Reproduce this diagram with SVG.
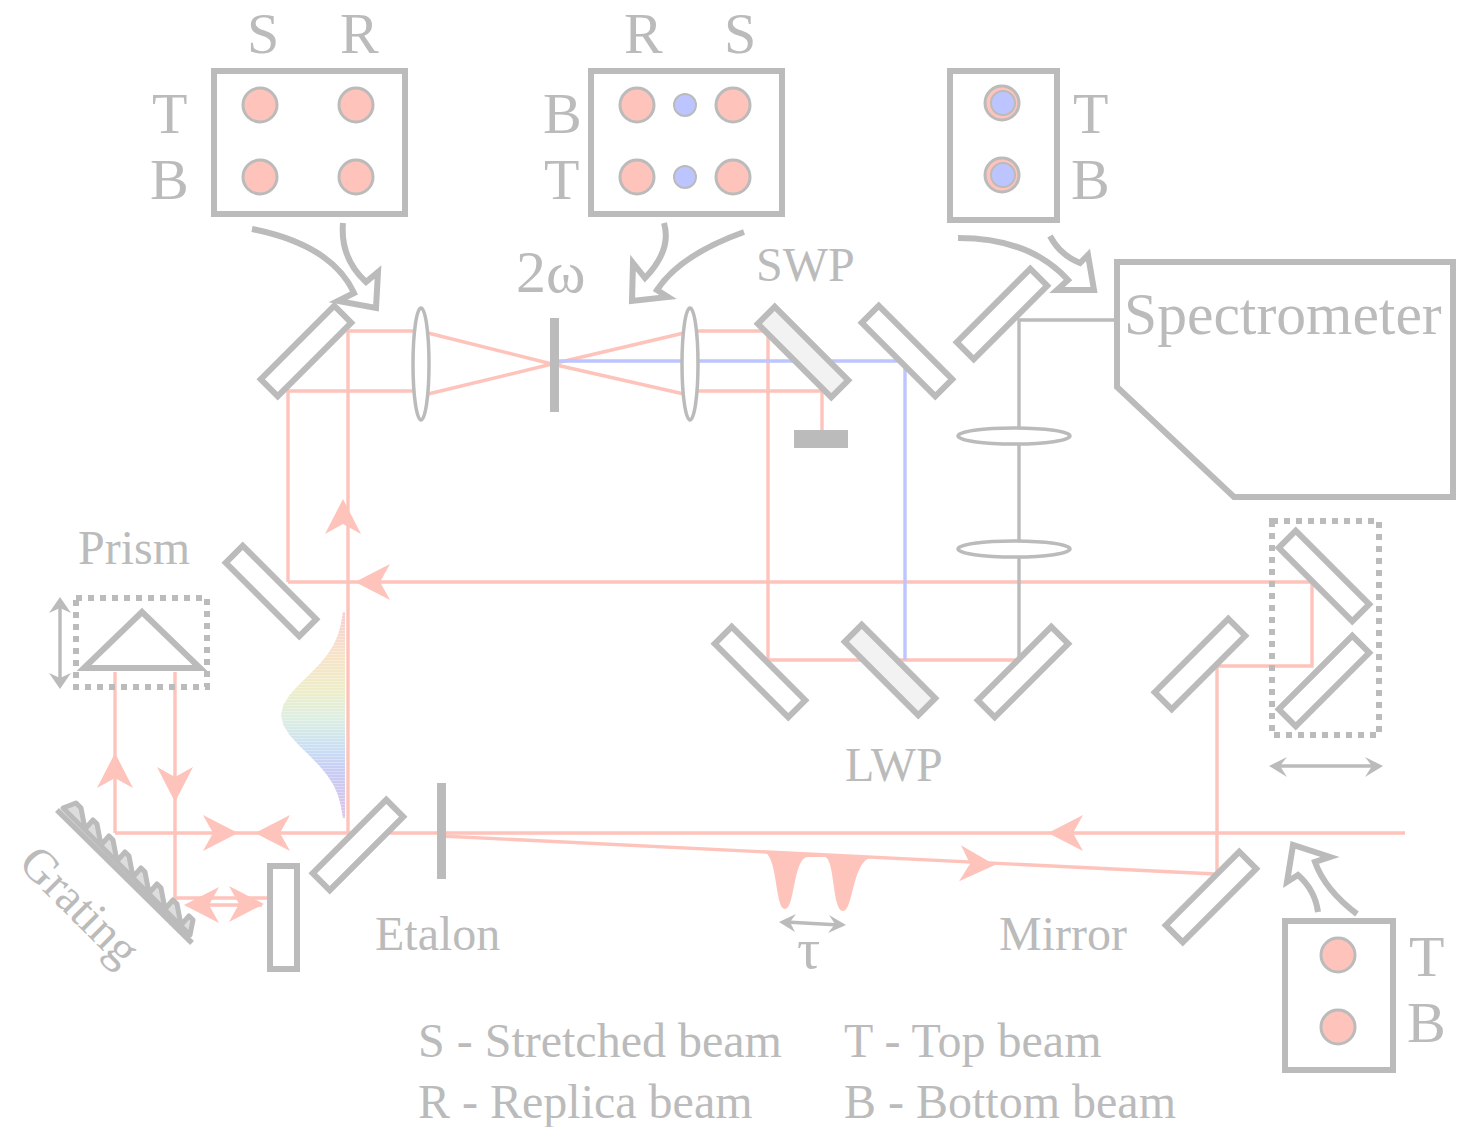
<svg xmlns="http://www.w3.org/2000/svg" width="1471" height="1127" viewBox="0 0 1471 1127">
<style>
text{font-family:"Liberation Serif","Times New Roman",serif;fill:#bbb;font-size:48px}
.big{font-size:59.600px}
.let{font-size:58px}
.c line,.c polyline{fill:none;stroke:#fec3ba;stroke-width:3.400}
.c .b{stroke:#bcc5ff}
.c .g{stroke:#bbb}
.m{fill:#fff;stroke:#bbb;stroke-width:6}
.f{fill:#f2f2f2}
.box{fill:#fff;stroke:#bbb;stroke-width:6}
.dash{fill:none;stroke:#bbb;stroke-width:6;stroke-dasharray:6 6}
.spot{fill:#fec3ba;stroke:#bbb;stroke-width:3}
.blue{fill:#bcc5ff;stroke:#bbb;stroke-width:2}
.lens{fill:#fff;stroke:#bbb;stroke-width:3.500}
.bar{fill:#bbb}
.thick{fill:none;stroke:#bbb;stroke-width:6;stroke-linejoin:miter}
.dbl{fill:none;stroke:#bbb;stroke-width:3.400}
.gh{fill:#bbb}
.ph{fill:#fec3ba}
</style>
<defs>
<path id="ah" d="M0,0L-35,-18L-25,0L-35,18Z"/>
<rect id="mir" x="-52" y="-12" width="104" height="24"/>
<linearGradient id="rb" x1="0" y1="0" x2="0" y2="1">
<stop offset="0" stop-color="#f6ced4"/><stop offset=".2" stop-color="#f7e2c8"/><stop offset=".38" stop-color="#eeedc8"/><stop offset=".52" stop-color="#dceee2"/><stop offset=".66" stop-color="#c9dff3"/><stop offset=".78" stop-color="#c8cbf3"/><stop offset="1" stop-color="#dcc5e6"/>
</linearGradient>
<pattern id="stripes" width="4" height="3" patternUnits="userSpaceOnUse"><rect y="0" width="4" height="1" fill="#fff" fill-opacity=".3"/></pattern>
</defs>
<g id="connectors" class="c">
<line x1="1405" y1="833" x2="115" y2="833"/>
<polyline points="441,836 1215,874"/>
<polyline points="115,833 115,672"/>
<polyline points="175,672 175,898 268,898"/>
<line x1="190" y1="905" x2="262" y2="905"/>
<line x1="348" y1="833" x2="348" y2="331"/>
<line x1="348" y1="331" x2="415" y2="331"/>
<polyline points="415,391 288,391 288,582"/>
<polyline points="288,582 1312,582 1312,666 1217,666 1217,873"/>
<polyline points="428,333 552,364 428,394"/>
<polyline points="684,333 552,364 684,394"/>
<line x1="696" y1="331" x2="765" y2="331"/>
<polyline points="696,391 822,391 822,430"/>
<polyline points="768,331 768,660 1018,660"/>
<polyline class="b" points="552,361 905,361 905,660"/>
<polyline class="g" points="1116,320 1019,320 1019,660"/>
</g>
<g id="arrowheads" class="ph">
<use href="#ah" transform="translate(343,499) rotate(-90)"/>
<use href="#ah" transform="translate(355,582) rotate(180)"/>
<use href="#ah" transform="translate(115,753) rotate(-90)"/>
<use href="#ah" transform="translate(175,802) rotate(90)"/>
<use href="#ah" transform="translate(238,833)"/>
<use href="#ah" transform="translate(255,833) rotate(180)"/>
<use href="#ah" transform="translate(184,905) rotate(180)"/>
<use href="#ah" transform="translate(264,904)"/>
<use href="#ah" transform="translate(995,865) rotate(3)"/>
<use href="#ah" transform="translate(1048,833) rotate(180)"/>
</g>
<g id="pulses"><path class="ph" d="M765,852C778,860 775,909 785,909C795,909 793,857 808,857L825,857C835,859 832,911 843,911C853,911 852,866 869,858Z"/></g>
<g id="spectrum">
<polygon fill="url(#rb)" points="345,612 343,612 342.400,615 340.700,625 337.900,635 333.500,645 327,655 318.700,665 308.900,675 298.600,685 289.600,695 283.300,705 281,715 283.300,725 289.600,735 298.600,745 308.900,755 318.700,765 327,775 333.500,785 337.900,795 340.700,805 342.400,815 343,818 345,818"/>
<polygon fill="url(#stripes)" points="345,612 343,612 342.400,615 340.700,625 337.900,635 333.500,645 327,655 318.700,665 308.900,675 298.600,685 289.600,695 283.300,705 281,715 283.300,725 289.600,735 298.600,745 308.900,755 318.700,765 327,775 333.500,785 337.900,795 340.700,805 342.400,815 343,818 345,818"/>
</g>
<g id="mirror-a"><use href="#mir" class="m" transform="translate(306,351) rotate(-45)"/></g>
<g id="swp"><use href="#mir" class="m f" transform="translate(803,352) rotate(45)"/></g>
<g id="mirror-c"><use href="#mir" class="m" transform="translate(907,351) rotate(45)"/></g>
<g id="mirror-d"><use href="#mir" class="m" transform="translate(1002,314) rotate(-45)"/></g>
<g id="mirror-e"><use href="#mir" class="m" transform="translate(271,591) rotate(45)"/></g>
<g id="mirror-f"><use href="#mir" class="m" transform="translate(358,845) rotate(-45)"/></g>
<g id="mirror-g"><use href="#mir" class="m" transform="translate(760,672) rotate(45)"/></g>
<g id="lwp"><use href="#mir" class="m f" transform="translate(890,670) rotate(45)"/></g>
<g id="mirror-i"><use href="#mir" class="m" transform="translate(1023,672) rotate(-45)"/></g>
<g id="mirror-j"><use href="#mir" class="m" transform="translate(1200,664) rotate(-45)"/></g>
<g id="mirror-k"><use href="#mir" class="m" transform="translate(1324,576) rotate(45)"/></g>
<g id="mirror-l"><use href="#mir" class="m" transform="translate(1324,681) rotate(-45)"/></g>
<g id="mirror-m"><use href="#mir" class="m" transform="translate(1211,897) rotate(-45)"/></g>
<g id="stage-mirror"><rect class="box" x="270" y="866" width="27" height="103"/></g>
<g id="lens1"><ellipse class="lens" cx="421" cy="364" rx="8" ry="56"/></g>
<g id="lens2"><ellipse class="lens" cx="690" cy="364" rx="8" ry="56"/></g>
<g id="lens3"><ellipse class="lens" cx="1014" cy="436" rx="56" ry="8"/></g>
<g id="lens4"><ellipse class="lens" cx="1014" cy="549" rx="56" ry="8"/></g>
<g id="filter-2w"><rect class="bar" x="550" y="318" width="9" height="94"/></g>
<g id="etalon"><rect class="bar" x="437" y="783" width="9" height="96"/></g>
<g id="dump"><rect class="bar" x="794" y="430" width="54" height="18"/></g>
<g id="prism">
<rect class="dash" x="76" y="598" width="131" height="89"/>
<polygon points="142,612 84,668 200,668" fill="none" stroke="#bbb" stroke-width="6"/>
<line class="dbl" x1="60" y1="605" x2="60" y2="680"/>
<polygon class="gh" points="60,597 71,613 60,608 49,613"/><polygon class="gh" points="60,689 71,673 60,678 49,673"/>
</g>
<g id="delay-stage">
<rect class="dash" x="1272" y="521" width="107" height="214"/>
<line class="dbl" x1="1278" y1="766" x2="1374" y2="766"/>
<polygon class="gh" points="1269,766 1287,757 1280,766 1287,777"/><polygon class="gh" points="1383,766 1365,757 1372,766 1365,777"/>
</g>
<g id="tau-arrow">
<line class="dbl" x1="786" y1="922" x2="840" y2="925"/>
<polygon class="gh" points="779,922 796,914 790,922 795,932"/><polygon class="gh" points="846,925 829,915 835,924 828,933"/>
</g>
<g id="grating">
<path fill="#ddd" stroke="#bbb" stroke-width="5" stroke-linejoin="round" d="M63,808L76,803L81,808L85,829L93,820L97,824L101,845L109,836L113,840L117,861L125,852L129,856L133,877L141,868L145,872L149,893L157,884L161,888L165,909L173,900L177,904L181,925L189,916L193,920L190,935Z"/>
<line x1="57" y1="810" x2="192" y2="943" stroke="#bbb" stroke-width="5.500"/>
</g>
<g id="box-in">
<rect class="box" x="214" y="71" width="191" height="143"/>
<circle class="spot" cx="260" cy="105" r="17"/><circle class="spot" cx="356" cy="105" r="17"/><circle class="spot" cx="260" cy="177" r="17"/><circle class="spot" cx="356" cy="177" r="17"/>
</g>
<g id="box-mid">
<rect class="box" x="591" y="71" width="191" height="143"/>
<circle class="spot" cx="637" cy="105" r="17"/><circle class="spot" cx="733" cy="105" r="17"/><circle class="spot" cx="637" cy="177" r="17"/><circle class="spot" cx="733" cy="177" r="17"/>
<circle class="blue" cx="685" cy="105" r="11"/><circle class="blue" cx="685" cy="177" r="11"/>
</g>
<g id="box-out">
<rect class="box" x="950" y="71" width="107" height="149"/>
<circle class="spot" cx="1002" cy="103" r="17"/><circle class="spot" cx="1002" cy="175" r="17"/>
<circle class="blue" cx="1003" cy="103" r="12"/><circle class="blue" cx="1003" cy="175" r="12"/>
</g>
<g id="box-source">
<rect class="box" x="1285" y="921" width="108" height="149"/>
<circle class="spot" cx="1338" cy="955" r="17"/><circle class="spot" cx="1338" cy="1027" r="17"/>
</g>
<g id="spectrometer">
<polygon class="box" points="1117,262 1453,262 1453,497 1234,497 1117,387"/>
<text class="big" x="1124" y="334">Spectrometer</text>
</g>
<g id="curved-arrows">
<path class="thick" d="M252,229Q332,245 354,293L338,301L376,308L378,272L366,282Q340,258 343,223"/>
<path class="thick" d="M664,223Q672,250 645,278L633,263L632,301L668,297L657,290Q680,255 744,232"/>
<path class="thick" d="M958,238Q1030,238 1068,280L1057,290L1094,290L1088,255L1080,263Q1060,255 1050,236"/>
<path class="thick" d="M1357,914Q1325,890 1315,862L1330,857L1293,845L1287,882L1298,875Q1315,890 1318,912"/>
</g>
<g id="labels">
<text class="let" x="247" y="53">S</text><text class="let" x="340" y="53">R</text>
<text class="let" x="152" y="133">T</text><text class="let" x="150" y="199">B</text>
<text class="let" x="624" y="53">R</text><text class="let" x="724" y="53">S</text>
<text class="let" x="543" y="133">B</text><text class="let" x="544" y="199">T</text>
<text class="let" x="1073" y="133">T</text><text class="let" x="1071" y="199">B</text>
<text class="let" x="1409" y="976">T</text><text class="let" x="1407" y="1042">B</text>
<text x="516" y="292" style="font-size:60px">2ω</text>
<text x="756" y="281">SWP</text>
<text x="78" y="564">Prism</text>
<text x="845" y="781">LWP</text>
<text x="375" y="950">Etalon</text>
<text x="999" y="950">Mirror</text>
<text x="797" y="968" style="font-size:58px">τ</text>
<text transform="translate(17,865) rotate(45)">Grating</text>
<text x="418" y="1057">S - Stretched beam</text>
<text x="844" y="1057">T - Top beam</text>
<text x="418" y="1118">R - Replica beam</text>
<text x="844" y="1118">B - Bottom beam</text>
</g>
</svg>
